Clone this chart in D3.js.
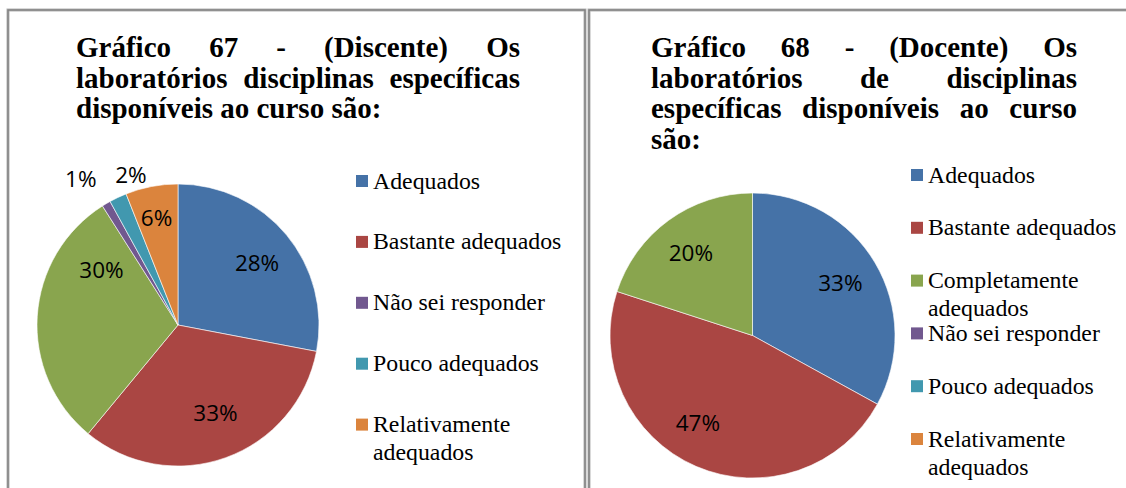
<!DOCTYPE html>
<html>
<head>
<meta charset="utf-8">
<script src="https://cdn.jsdelivr.net/npm/d3@7"></script>
<style>
  html, body { margin: 0; padding: 0; background: #fff; }
  svg { display: block; }
</style>
</head>
<body>
<svg id="chart" width="1126" height="488"></svg>
<script>
// Response categories (same order and colours in both charts)
const categories = [
  "Adequados",
  "Bastante adequados",
  "Completamente adequados",
  "Não sei responder",
  "Pouco adequados",
  "Relativamente adequados"
];
const colors = ["#4572A7", "#AA4643", "#89A54E", "#71588F", "#4198AF", "#DB843D"];

// Gráfico 67 – students (percent)
const discenteValues = [28, 33, 30, 1, 2, 6];
// Gráfico 68 – teachers (percent)
const docenteValues = [33, 47, 20, 0, 0, 0];

// Legend entries shown next to each pie
const discenteLegend = ["Adequados", "Bastante adequados", "Não sei responder",
                        "Pouco adequados", "Relativamente adequados"];
const docenteLegend = categories.slice();

// Title lines (justified block, last line left aligned)
const discenteTitle = [
  "Gráfico 67 - (Discente) Os",
  "laboratórios disciplinas específicas",
  "disponíveis ao curso são:"
];
const docenteTitle = [
  "Gráfico 68 - (Docente) Os",
  "laboratórios de disciplinas",
  "específicas disponíveis ao curso",
  "são:"
];

const svg = d3.select("#chart");

// Panel frames
function frame(x, y, w, h) {
  svg.append("rect")
    .attr("x", x).attr("y", y).attr("width", w).attr("height", h)
    .attr("fill", "none").attr("stroke", "#b4b4b4").attr("stroke-width", 3);
  svg.append("rect")
    .attr("x", x).attr("y", y).attr("width", w).attr("height", h)
    .attr("fill", "none").attr("stroke", "#808080").attr("stroke-width", 1.4);
}
frame(8, 10, 577, 520);
frame(589, 10, 600, 520);

// Justified multi-line title
function drawTitle(lines, x, width, y0, lineH) {
  const g = svg.append("g")
    .attr("font-family", "'Liberation Serif', 'Times New Roman', serif")
    .attr("font-weight", "bold")
    .attr("font-size", 29)
    .attr("fill", "#000");
  lines.forEach((line, i) => {
    const y = y0 + i * lineH;
    const words = line.split(" ");
    const last = i === lines.length - 1;
    if (last || words.length === 1) {
      g.append("text").attr("x", x).attr("y", y).text(line);
      return;
    }
    const nodes = words.map(w => g.append("text").attr("y", y).text(w));
    const widths = nodes.map(n => n.node().getComputedTextLength());
    const gap = (width - d3.sum(widths)) / (words.length - 1);
    let cx = x;
    nodes.forEach((n, k) => { n.attr("x", cx); cx += widths[k] + gap; });
  });
}
drawTitle(discenteTitle, 76, 444, 57, 30.7);
drawTitle(docenteTitle, 651, 426, 57, 30.7);

// Label nudges relative to the slice centroid (best-fit placement)
const labelNudge = {
  discente: { "Adequados": [3, 1], "Bastante adequados": [4, -5],
              "Completamente adequados": [22, -49], "Não sei responder": [-47, -61],
              "Pouco adequados": [-5, -61], "Relativamente adequados": [-3, -10] },
  docente:  { "Adequados": [2, -2], "Bastante adequados": [-15, -4],
              "Completamente adequados": [-3, -2] }
};

function drawPie(values, key, cx, cy, r) {
  const data = categories.map((c, i) => ({ cat: c, value: values[i], color: colors[i] }));
  const pie = d3.pie().sort(null).value(d => d.value).startAngle(0).endAngle(2 * Math.PI);
  const arc = d3.arc().innerRadius(0).outerRadius(r);
  const labelArc = d3.arc().innerRadius(r * 0.7).outerRadius(r * 0.7);
  const arcs = pie(data).filter(d => d.data.value > 0);
  const g = svg.append("g").attr("transform", `translate(${cx},${cy})`);
  g.selectAll("path").data(arcs).join("path")
    .attr("d", arc)
    .attr("fill", d => d.data.color)
    .attr("stroke", "#ffffff")
    .attr("stroke-width", 0.6);
  g.selectAll("text").data(arcs).join("text")
    .attr("transform", d => {
      const [x, y] = labelArc.centroid(d);
      const n = labelNudge[key][d.data.cat] || [0, 0];
      return `translate(${x + n[0]},${y + n[1]})`;
    })
    .attr("text-anchor", "middle")
    .attr("dy", "0.36em")
    .attr("font-family", "'Open Sans', 'Noto Sans', sans-serif")
    .attr("font-size", 22.5)
    .attr("fill", "#000")
    .text(d => d.data.value + "%");
}
drawPie(discenteValues, "discente", 178, 325, 141);
drawPie(docenteValues, "docente", 752.5, 335.5, 142.5);

// Legend with wrapping of long entries
function drawLegend(items, x, y0, step, maxW) {
  const g = svg.append("g")
    .attr("font-family", "'Liberation Serif', 'Times New Roman', serif")
    .attr("font-size", 23.8)
    .attr("fill", "#000");
  items.forEach((name, i) => {
    const cy = y0 + i * step;
    g.append("rect")
      .attr("x", x).attr("y", cy - 6).attr("width", 12).attr("height", 12)
      .attr("fill", colors[categories.indexOf(name)]);
    const t = g.append("text").attr("x", x + 17).attr("y", cy + 7.5);
    const words = name.split(" ");
    let line = [];
    let lineNo = 0;
    let tspan = t.append("tspan").attr("x", x + 17).attr("dy", 0);
    words.forEach(w => {
      line.push(w);
      tspan.text(line.join(" "));
      if (tspan.node().getComputedTextLength() > maxW && line.length > 1) {
        line.pop();
        tspan.text(line.join(" "));
        line = [w];
        lineNo++;
        tspan = t.append("tspan").attr("x", x + 17).attr("dy", 28).text(w);
      }
    });
  });
}
drawLegend(discenteLegend, 356, 181, 60.9, 200);
drawLegend(docenteLegend, 911, 175, 52.8, 195);
</script>
</body>
</html>
